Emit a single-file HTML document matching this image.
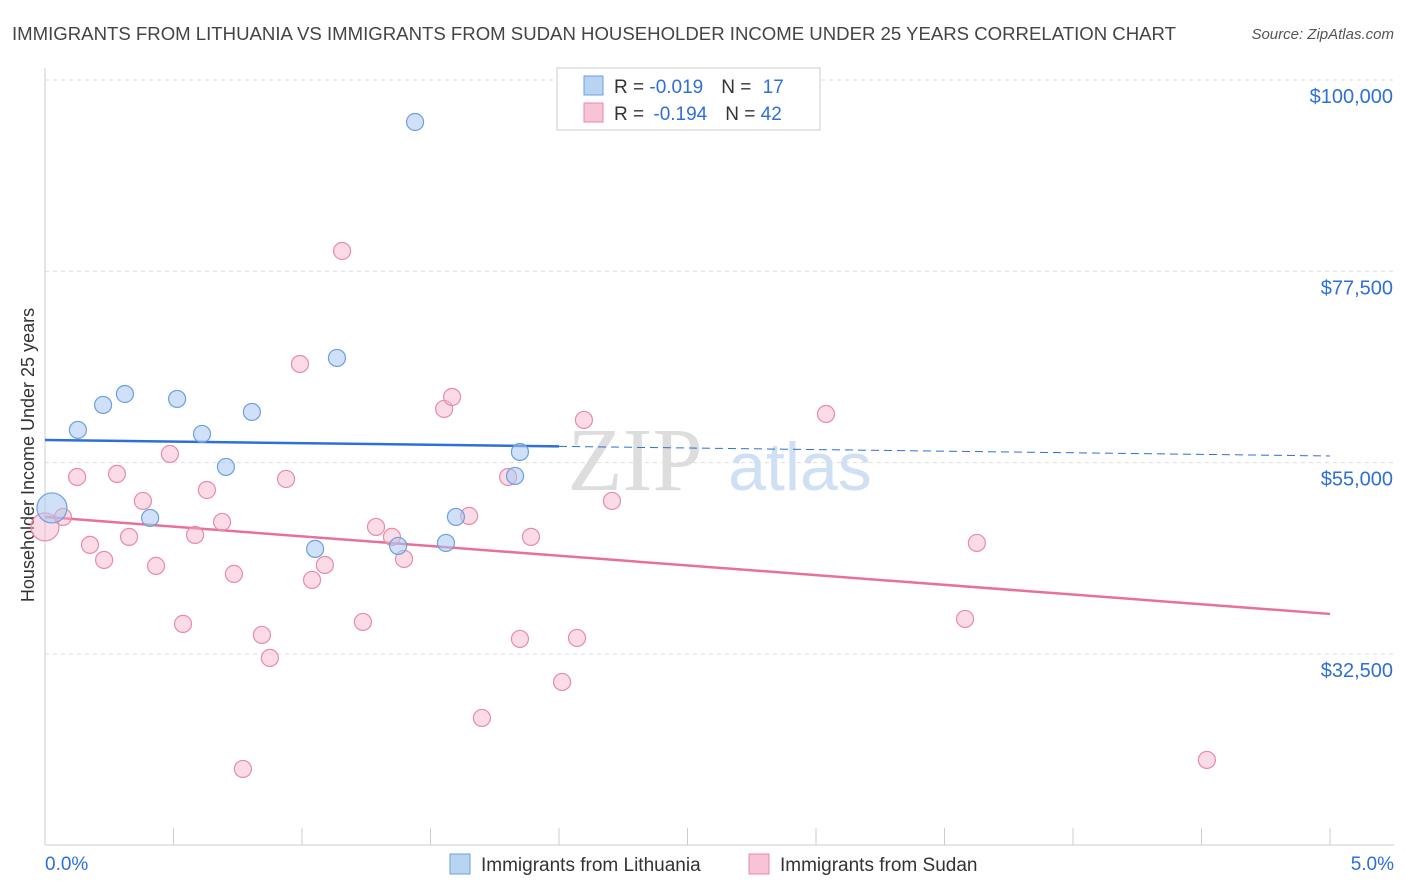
<!DOCTYPE html>
<html><head><meta charset="utf-8">
<style>
body{margin:0;background:#fff;font-family:"Liberation Sans",sans-serif;}
svg{display:block}
</style></head>
<body>
<svg id="chart" width="1406" height="892" xmlns="http://www.w3.org/2000/svg">
<text x="12" y="40" font-size="18" fill="#444" textLength="1164" lengthAdjust="spacingAndGlyphs">IMMIGRANTS FROM LITHUANIA VS IMMIGRANTS FROM SUDAN HOUSEHOLDER INCOME UNDER 25 YEARS CORRELATION CHART</text>
<text x="1394" y="39" font-size="15" fill="#555" font-style="italic" text-anchor="end">Source: ZipAtlas.com</text>
<text transform="translate(34,455) rotate(-90)" font-size="18" fill="#333" text-anchor="middle">Householder Income Under 25 years</text>
<g>
<text x="635" y="490" font-size="90" fill="#ddd" font-family="Liberation Serif,serif" text-anchor="middle">ZIP</text>
<text x="800" y="490" font-size="68" fill="#cfe0f4" text-anchor="middle">atlas</text>
</g>
<g id="grid"></g><g id="axes"></g><g id="lines"></g><g id="pts"></g>
<g>
<rect x="557" y="68" width="263" height="62" fill="#fff" stroke="#ccc"/>
<rect x="584" y="76" width="19" height="19" fill="#b9d3f3" stroke="#6a9fe0"/>
<rect x="584" y="103" width="19" height="19" fill="#f8c3d4" stroke="#e98aa8"/>
<text x="614" y="93" font-size="19" fill="#333">R = <tspan fill="#2e6fd8">-0.019</tspan><tspan dx="18">N = </tspan><tspan fill="#2e6fd8" dx="6">17</tspan></text>
<text x="614" y="120" font-size="19" fill="#333">R = <tspan fill="#2e6fd8" dx="4">-0.194</tspan><tspan dx="18">N = </tspan><tspan fill="#2e6fd8">42</tspan></text>
</g>
<g>
<rect x="450" y="854" width="20" height="20" fill="#b9d3f3" stroke="#6a9fe0"/>
<text x="481" y="871" font-size="19" fill="#333">Immigrants from Lithuania</text>
<rect x="749" y="854" width="20" height="20" fill="#f8c3d4" stroke="#e98aa8"/>
<text x="780" y="871" font-size="19" fill="#333">Immigrants from Sudan</text>
</g>
</svg>
<script>
const yTicks=[100000,77500,55000,32500];
const yTickLabels=["$100,000","$77,500","$55,000","$32,500"];
const xTickLabels=["0.0%","5.0%"];
const lithX=[0.027,0.128,0.226,0.311,0.409,0.514,0.611,0.704,0.805,1.051,1.136,1.374,1.440,1.560,1.599,1.829,1.848];
const lithY=[49670,58840,61780,63070,48490,62490,58370,54490,60960,44850,67310,45200,95060,45550,48610,53430,56250];
const sudX=[0.0,0.070,0.125,0.175,0.230,0.280,0.327,0.381,0.432,0.486,0.537,0.584,0.630,0.689,0.735,0.844,0.875,0.938,0.992,1.039,1.089,1.156,1.237,1.288,1.350,1.397,1.553,1.584,1.650,1.700,1.802,1.848,1.891,2.012,2.070,2.097,2.206,3.039,3.580,3.626,4.521,0.770];
const sudY=[47430,48610,53310,45320,43550,53670,46260,50490,42850,56020,36030,46490,51780,48020,41910,34730,32030,53080,66600,41200,42960,79890,36260,47430,46260,43670,61310,62720,48730,24970,53310,34260,46260,29200,34380,60020,50490,60720,36610,45550,20030,18970];
const lithTrend=[57660,55780];
const sudTrend=[48610,37200];
const NS="http://www.w3.org/2000/svg";
const xs=v=>45+v/5*1285;
const ys=v=>80+(100000-v)/22500*191.3;
function mk(tag,attrs,parent){const e=document.createElementNS(NS,tag);for(const k in attrs)e.setAttribute(k,attrs[k]);document.getElementById(parent).appendChild(e);return e;}
yTicks.forEach((t,i)=>{
 const g=mk('line',{x1:45,x2:1394,y1:ys(t),y2:ys(t),stroke:'#ddd','stroke-dasharray':'4,4'},'grid');
 
 
 const l=mk('text',{x:1393,y:ys(t)+23,'font-size':20,fill:'#2e6fd8','text-anchor':'end'},'grid');
 l.textContent=yTickLabels[i];
 
 
});
const ax=mk('line',{x1:45,x2:45,y1:68,y2:845,stroke:'#ccc'},'axes');


const bx=mk('line',{x1:45,x2:1394,y1:845,y2:845,stroke:'#ccc'},'axes');


for(let i=0;i<=10;i++){const t=mk('line',{x1:xs(i*0.5),x2:xs(i*0.5),y1:828,y2:845,stroke:'#ccc'},'axes');
 
 }
[[0,'start',45],[5,'end',1394]].forEach((d,i)=>{const t=mk('text',{x:d[2],y:870,'font-size':19,fill:'#2e6fd8','text-anchor':d[1]},'axes');t.textContent=xTickLabels[i];
 
 });
const lb=v=>lithTrend[0]+(lithTrend[1]-lithTrend[0])*v/5;
const t1=mk('line',{x1:xs(0),y1:ys(lb(0)),x2:xs(2),y2:ys(lb(2)),stroke:'#2e6fd8','stroke-width':2.5},'lines');


const t2=mk('line',{x1:xs(2),y1:ys(lb(2)),x2:xs(5),y2:ys(lb(5)),stroke:'#2e6fd8','stroke-width':1,'stroke-dasharray':'8,5'},'lines');


const t3=mk('line',{x1:xs(0),y1:ys(sudTrend[0]),x2:xs(5),y2:ys(sudTrend[1]),stroke:'#e8709a','stroke-width':2.5},'lines');


sudX.forEach((x,i)=>{const c=mk('circle',{cx:xs(x),cy:ys(sudY[i]),r:i===0?14:8.5,fill:'rgba(246,178,200,0.45)',stroke:'#e98aa8','stroke-width':1.2},'pts');
 
 });
lithX.forEach((x,i)=>{const c=mk('circle',{cx:xs(x),cy:ys(lithY[i]),r:i===0?15:8.5,fill:'rgba(169,200,240,0.55)',stroke:'#6a9fe0','stroke-width':1.2},'pts');
 
 });
</script>
</body></html>
